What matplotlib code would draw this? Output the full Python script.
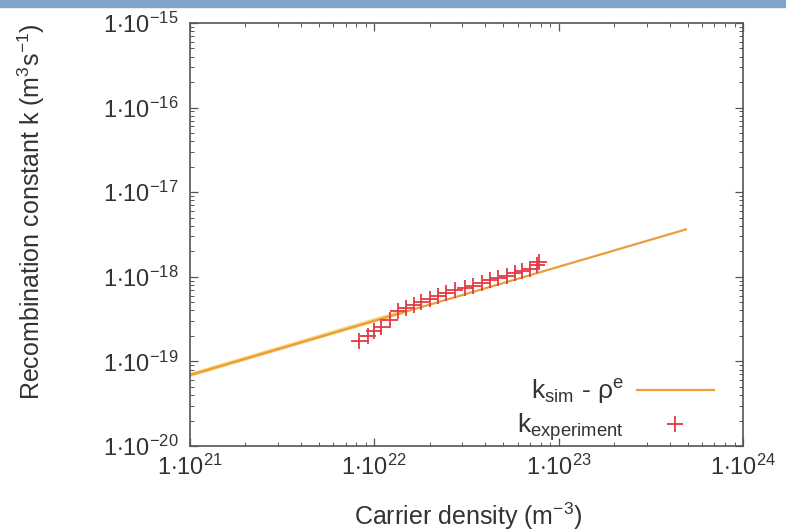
import numpy as np
import matplotlib
matplotlib.use("Agg")
import matplotlib.pyplot as plt
from matplotlib.patches import Rectangle
from matplotlib.ticker import LogLocator, FuncFormatter, NullFormatter

plt.rcParams['font.family'] = ['Liberation Sans', 'DejaVu Sans']
plt.rcParams['mathtext.fontset'] = 'custom'
plt.rcParams['mathtext.rm'] = 'Liberation Sans'
plt.rcParams['mathtext.it'] = 'Liberation Sans'

# simulated fit k_sim ~ rho^e (straight line on log-log)
sim_density = [1.0e21, 4.9e23]
sim_k = [6.9e-20, 3.63e-18]
# overlapping lighter (yellow) simulation curve at low density
sim2_density = [1.0e21, 1.4e22]
sim2_k = [6.9e-20, 3.8e-19]

# experimental points
exp_density = [8.3e21, 9.2e21, 1.0e22, 1.09e22, 1.21e22, 1.34e22, 1.49e22, 1.65e22,
               1.80e22, 2.0e22, 2.22e22, 2.46e22, 2.73e22, 3.10e22, 3.44e22, 3.82e22,
               4.24e22, 4.71e22, 5.23e22, 5.81e22, 6.31e22, 7.01e22, 7.62e22, 7.8e22]
exp_k = [1.72e-19, 1.97e-19, 2.26e-19, 2.55e-19, 3.11e-19, 3.9e-19, 4.28e-19, 4.69e-19,
         4.99e-19, 5.47e-19, 5.87e-19, 6.44e-19, 6.92e-19, 7.39e-19, 7.87e-19, 8.47e-19,
         9.1e-19, 9.7e-19, 1.03e-18, 1.11e-18, 1.16e-18, 1.24e-18, 1.36e-18, 1.49e-18]

fig = plt.figure(figsize=(7.86, 5.32), dpi=100)
ax = fig.add_axes([0.2417, 0.1617, 0.7036, 0.7951])

# blue strip along the top of the image
fig.add_artist(Rectangle((0, 1 - 7 / 532), 1, 7 / 532, transform=fig.transFigure,
                         color='#7fa5ca', zorder=10))

ax.plot(sim2_density, sim2_k, '-', color='#f5d36a', lw=3.0, alpha=0.9)
ax.plot(sim_density, sim_k, '-', color='#ec9d3a', lw=1.6,
        label=r'k$_{\mathrm{sim}}$ - ρ$^{\mathrm{e}}$')
ax.plot(exp_density, exp_k, '+', color='#e23a44', ms=11, mew=1.3, ls='none',
        label=r'k$_{\mathrm{experiment}}$')

ax.set_xscale('log')
ax.set_yscale('log')
ax.set_xlim(1e21, 1e24)
ax.set_ylim(1e-20, 1e-15)

fmt = FuncFormatter(lambda v, p: r'$1{\cdot}10^{%d}$' % round(np.log10(v)))
ax.xaxis.set_major_locator(LogLocator(base=10, numticks=10))
ax.yaxis.set_major_locator(LogLocator(base=10, numticks=10))
ax.xaxis.set_major_formatter(fmt)
ax.yaxis.set_major_formatter(fmt)
ax.xaxis.set_minor_locator(LogLocator(base=10, subs=np.arange(2, 10), numticks=20))
ax.yaxis.set_minor_locator(LogLocator(base=10, subs=np.arange(2, 10), numticks=20))
ax.xaxis.set_minor_formatter(NullFormatter())
ax.yaxis.set_minor_formatter(NullFormatter())

ax.tick_params(which='both', direction='in', top=True, right=True, colors='#555555',
               labelcolor='#333333', labelsize=17)
ax.tick_params(which='major', length=6, width=0.9)
ax.tick_params(which='minor', length=3, width=0.7)
ax.tick_params(axis='x', pad=6)
ax.tick_params(axis='y', pad=8)
for s in ax.spines.values():
    s.set_color('#555555')
    s.set_linewidth(1.2)

ax.set_xlabel(r'Carrier density (m$^{-3}$)', fontsize=18, color='#333333')
ax.set_ylabel(r'Recombination constant k (m$^{3}$s$^{-1}$)', fontsize=18, color='#333333')
ax.xaxis.set_label_coords(0.503, -0.128)
ax.yaxis.set_label_coords(-0.259, 0.555)

ax.legend(loc='lower right', frameon=False, markerfirst=False, fontsize=19,
          handlelength=2.9, labelspacing=0.2, handletextpad=0.5,
          bbox_to_anchor=(0.99, -0.05), labelcolor='#333333')

fig.savefig('out.png', dpi=100)
